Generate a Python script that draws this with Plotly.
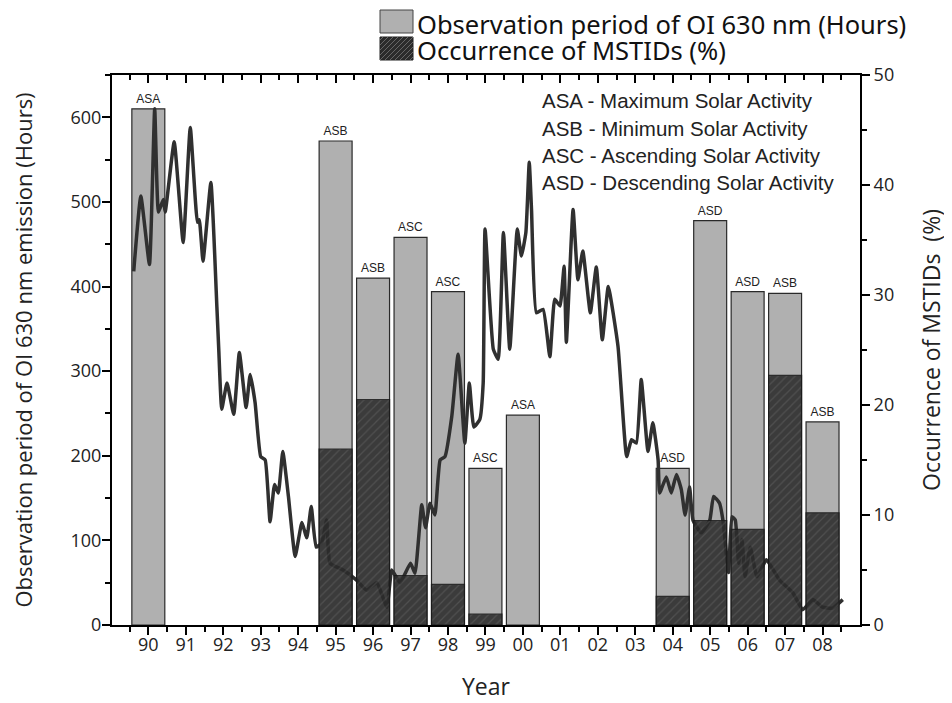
import plotly.graph_objects as go

# ---------------- data ----------------
bar_years = [1990, 1995, 1996, 1997, 1998, 1999, 2000, 2004, 2005, 2006, 2007, 2008]
obs_hours = [610, 572, 410, 458, 394, 185, 248, 185, 478, 394, 392, 240]
phase_labels = ["ASA", "ASB", "ASB", "ASC", "ASC", "ASC", "ASA", "ASD", "ASD", "ASD", "ASB", "ASB"]

mstid_years = [1995, 1996, 1997, 1998, 1999, 2004, 2005, 2006, 2007, 2008]
mstid_pct = [16.0, 20.5, 4.5, 3.7, 1.0, 2.6, 9.5, 8.7, 22.7, 10.2]

line_years = [1989.61, 1989.80, 1990.03, 1990.17, 1990.27, 1990.40, 1990.45, 1990.69, 1990.93,
              1991.12, 1991.31, 1991.36, 1991.46, 1991.67, 1991.83, 1991.88, 1991.96, 1992.10,
              1992.28, 1992.43, 1992.61, 1992.72, 1992.85, 1993.00, 1993.12, 1993.25, 1993.37,
              1993.47, 1993.59, 1993.74, 1993.92, 1994.10, 1994.23, 1994.35, 1994.48, 1994.63,
              1994.76, 1994.85, 1995.20, 1995.56, 1995.83, 1996.10, 1996.37, 1996.50, 1996.72,
              1997.00, 1997.12, 1997.30, 1997.40, 1997.52, 1997.65, 1997.79, 1997.92, 1998.10,
              1998.27, 1998.45, 1998.57, 1998.69, 1998.85, 1998.94, 1998.99, 1999.21, 1999.34,
              1999.48, 1999.65, 1999.85, 1999.96, 2000.08, 2000.17, 2000.23, 2000.36, 2000.54,
              2000.72, 2000.85, 2000.99, 2001.10, 2001.16, 2001.34, 2001.47, 2001.60, 2001.80,
              2001.96, 2002.12, 2002.28, 2002.54, 2002.77, 2002.90, 2003.03, 2003.16, 2003.34,
              2003.47, 2003.61, 2003.65, 2003.83, 2003.96, 2004.10, 2004.23, 2004.33, 2004.45,
              2004.54, 2004.76, 2004.99, 2005.09, 2005.25, 2005.35, 2005.49, 2005.58, 2005.67,
              2005.76, 2005.85, 2005.93, 2006.07, 2006.25, 2006.50, 2006.85, 2007.21, 2007.47,
              2007.74, 2008.00, 2008.27, 2008.54]
line_values = [418, 507, 426, 610, 488, 503, 488, 571, 452,
               588, 476, 479, 430, 523, 376, 326, 255, 286,
               249, 322, 257, 296, 263, 199, 195, 122, 166,
               156, 205, 152, 81, 121, 103, 140, 92, 97,
               124, 73, 65, 53, 41, 50, 21, 65, 50,
               73, 61, 142, 115, 144, 130, 195, 199, 246,
               320, 215, 286, 234, 243, 286, 468, 326, 314,
               464, 326, 468, 436, 464, 547, 491, 369, 373,
               317, 385, 377, 424, 334, 491, 408, 442, 369,
               423, 337, 400, 329, 199, 219, 215, 290, 205,
               239, 195, 156, 175, 156, 178, 160, 130, 163,
               124, 109, 124, 152, 144, 121, 62, 128, 124,
               73, 101, 57, 92, 57, 77, 53, 38, 18,
               30, 21, 20, 30]

tick_years = list(range(1990, 2009))
tick_labels = [f"{y % 100:02d}" for y in tick_years]

legend_names = ["Observation period of OI 630 nm (Hours)", "Occurrence of MSTIDs (%)"]
key_lines = ["ASA - Maximum Solar Activity", "ASB - Minimum Solar Activity",
             "ASC - Ascending Solar Activity", "ASD - Descending Solar Activity"]

# ---------------- layout geometry ----------------
OFF = 8                      # page body margin of the html
W, H = 952 - OFF, 703 - OFF  # figure size
L, R, T, B = 112, 860, 75, 625   # plot area in window pixels
TICKF = "Open Sans, Noto Sans, sans-serif"


def px(x):
    return (x - L) / (R - L)


def py(y):
    return (B - y) / (B - T)


fig = go.Figure()

fig.add_trace(go.Bar(
    x=bar_years, y=obs_hours, width=0.88, name=legend_names[0],
    marker=dict(color="#b0b0b0", line=dict(color="#2a2a2a", width=1.2)),
    text=phase_labels, textposition="outside", cliponaxis=False,
    textfont=dict(family="Liberation Sans, Arial", size=12, color="#222"),
    yaxis="y", showlegend=False))

fig.add_trace(go.Scatter(
    x=line_years, y=line_values, mode="lines",
    line=dict(color="#303030", width=3.5, shape="spline", smoothing=0.4),
    yaxis="y", showlegend=False, hoverinfo="skip"))

fig.add_trace(go.Bar(
    x=mstid_years, y=mstid_pct, width=0.88, name=legend_names[1],
    marker=dict(color="#2b2b2b", opacity=0.88,
                line=dict(color="#1a1a1a", width=1.2),
                pattern=dict(shape="/", fgcolor="#5c5c5c", bgcolor="#2b2b2b",
                             size=6, solidity=0.2)),
    yaxis="y2", showlegend=False))

axis_common = dict(showline=True, linecolor="black", linewidth=2, ticks="outside",
                   tickcolor="black", tickwidth=2, ticklen=8, showgrid=False, zeroline=False,
                   tickfont=dict(family=TICKF, size=18, color="#222"))

fig.update_layout(
    width=W, height=H,
    margin=dict(l=L - OFF, r=W - (R - OFF), t=T - OFF, b=H - (B - OFF), autoexpand=False),
    paper_bgcolor="white", plot_bgcolor="white",
    barmode="overlay",
    xaxis=dict(range=[1989.03, 2009.0], tickmode="array", tickvals=tick_years, ticktext=tick_labels,
               title=dict(text="Year", font=dict(family=TICKF, size=23, color="#222"), standoff=24),
               ticklabelstandoff=-6,
               minor=dict(tickmode="linear", tick0=1989.5, dtick=1, ticks="outside", ticklen=5,
                          tickwidth=2, tickcolor="black"),
               **axis_common),
    xaxis2=dict(range=[1989.03, 2009.0], overlaying="x", side="top", anchor="y",
                tickmode="array", tickvals=tick_years, showticklabels=False,
                showline=True, linecolor="black", linewidth=2, ticks="inside", ticklen=8,
                tickwidth=2, tickcolor="black", showgrid=False, zeroline=False,
                minor=dict(tickmode="linear", tick0=1989.5, dtick=1, ticks="inside", ticklen=5,
                           tickwidth=2, tickcolor="black")),
    yaxis=dict(range=[0, 650], tickmode="linear", tick0=0, dtick=100,
               title=dict(text="Observation period of OI 630 nm emission (Hours)",
                          font=dict(family=TICKF, size=22, color="#222"), standoff=33),
               ticklabelstandoff=-3,
               minor=dict(tickmode="linear", tick0=50, dtick=100, ticks="outside", ticklen=5,
                          tickwidth=2, tickcolor="black"),
               **axis_common),
    yaxis2=dict(range=[0, 50], overlaying="y", side="right", anchor="x",
                tickmode="linear", tick0=0, dtick=10,
                title=dict(text="Occurrence of MSTIDs  (%)",
                           font=dict(family=TICKF, size=23, color="#222"), standoff=31),
                minor=dict(tickmode="linear", tick0=5, dtick=10, ticks="outside", ticklen=5,
                           tickwidth=2, tickcolor="black"),
                **axis_common),
)

# invisible trace to activate the top axis
fig.add_trace(go.Scatter(x=[1989.03], y=[0], xaxis="x2", yaxis="y", mode="markers",
                         marker=dict(opacity=0), showlegend=False, hoverinfo="skip"))

shapes = []
annotations = []

# legend (drawn manually with large swatches)
bx0, bx1 = 380, 413
shapes.append(dict(type="rect", xref="paper", yref="paper", x0=px(bx0), x1=px(bx1),
                   y0=py(33), y1=py(10), fillcolor="#b0b0b0", line=dict(color="#444", width=1)))
shapes.append(dict(type="rect", xref="paper", yref="paper", x0=px(bx0), x1=px(bx1),
                   y0=py(60), y1=py(37), fillcolor="#2b2b2b", line=dict(color="#222", width=1)))
hy0, hy1 = 37, 60
c = bx0 + hy0 + 3
while c < bx1 + hy1:
    xa = max(bx0, c - hy1)
    xb = min(bx1, c - hy0)
    if xb > xa:
        shapes.append(dict(type="line", xref="paper", yref="paper",
                           x0=px(xa), y0=py(c - xa), x1=px(xb), y1=py(c - xb),
                           line=dict(color="#666", width=1)))
    c += 5

for name, yc in zip(legend_names, [24, 50]):
    annotations.append(dict(text=name, xref="paper", yref="paper", x=px(415), y=py(yc),
                            xanchor="left", yanchor="middle", showarrow=False,
                            font=dict(family="Noto Sans, Open Sans", size=25.5, color="#111")))

for i, txt in enumerate(key_lines):
    annotations.append(dict(text=txt, xref="paper", yref="paper", x=px(540), y=py(101 + 27.3 * i),
                            xanchor="left", yanchor="middle", showarrow=False,
                            font=dict(family="Liberation Sans, Arial", size=20.5, color="#222")))

fig.update_layout(shapes=shapes, annotations=annotations)

fig.write_html("out.html")
